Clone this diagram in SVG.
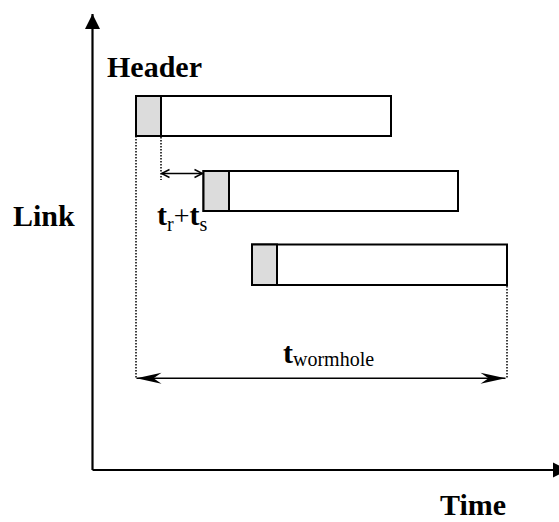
<svg xmlns="http://www.w3.org/2000/svg" width="559" height="522" viewBox="0 0 559 522">
  <style>
    .lbl { font-family: "Liberation Serif", "Times New Roman", serif; fill: #000; }
    .big { font-size: 30px; font-weight: bold; }
    .sub { font-size: 20px; font-weight: normal; }
    .box { fill: #fff; stroke: #000; stroke-width: 2; }
    .hdr { fill: #dcdcdc; stroke: #000; stroke-width: 2; }
    .axis { stroke: #000; stroke-width: 2.2; fill: none; }
    .dim { stroke: #000; stroke-width: 1.4; fill: none; }
    .dot { stroke: #000; stroke-width: 1.5; stroke-dasharray: 1.5 1.5; fill: none; }
  </style>
  <defs>
    <marker id="axisHead" markerUnits="userSpaceOnUse" viewBox="-16 -8 17 16" refX="0" refY="0" markerWidth="17" markerHeight="16" orient="auto">
      <path d="M0,0 L-15,-7.5 L-15,7.5 Z" fill="#000"/>
    </marker>
    <marker id="stealth" markerUnits="userSpaceOnUse" viewBox="-26 -7 27 14" refX="0" refY="0" markerWidth="27" markerHeight="14" orient="auto-start-reverse">
      <path d="M0,0 L-25,-5.5 L-17,0 L-25,5.5 Z" fill="#000"/>
    </marker>
    <marker id="vee" markerUnits="userSpaceOnUse" viewBox="-10 -6 11 12" refX="0" refY="0" markerWidth="11" markerHeight="12" orient="auto-start-reverse">
      <path d="M-8,-4 L0,0 L-8,4" fill="none" stroke="#000" stroke-width="1.4"/>
    </marker>
  </defs>

  <!-- axes -->
  <g id="axes">
    <line class="axis" x1="92.5" y1="470" x2="92.5" y2="14" marker-end="url(#axisHead)"/>
    <line class="axis" x1="92.5" y1="470" x2="568" y2="470" marker-end="url(#axisHead)"/>
  </g>

  <!-- flit packets along successive links -->
  <g id="packet1">
    <rect class="box" x="136" y="96" width="255" height="40"/>
    <rect class="hdr" x="136" y="96" width="25" height="40"/>
  </g>
  <g id="packet2">
    <rect class="box" x="203.5" y="171" width="254.5" height="40"/>
    <rect class="hdr" x="203.5" y="171" width="25.5" height="40"/>
  </g>
  <g id="packet3">
    <rect class="box" x="252" y="244.5" width="255" height="40.5"/>
    <rect class="hdr" x="252" y="244.5" width="25" height="40.5"/>
  </g>

  <!-- dimension lines -->
  <g id="connectors">
    <line class="dot" x1="136" y1="118" x2="136" y2="378"/>
    <line class="dot" x1="161" y1="137" x2="161" y2="180"/>
    <line class="dot" x1="507" y1="286" x2="507" y2="378"/>
    <line class="dim" x1="161.5" y1="173.5" x2="202.5" y2="173.5" marker-start="url(#vee)" marker-end="url(#vee)"/>
    <line class="dim" x1="136.5" y1="378.3" x2="505.5" y2="378.3" marker-start="url(#stealth)" marker-end="url(#stealth)"/>
  </g>

  <!-- labels -->
  <g id="labels">
    <text class="lbl big" x="107" y="77">Header</text>
    <text class="lbl big" x="13" y="226">Link</text>
    <text class="lbl big" x="440" y="515">Time</text>
    <text class="lbl big" x="157" y="225">t<tspan class="sub" dy="6">r</tspan><tspan font-size="28" font-weight="normal" dy="-6">+</tspan><tspan>t</tspan><tspan class="sub" dy="6">s</tspan></text>
    <text class="lbl big" x="283" y="363">t<tspan class="sub" dy="3">wormhole</tspan></text>
  </g>
</svg>
